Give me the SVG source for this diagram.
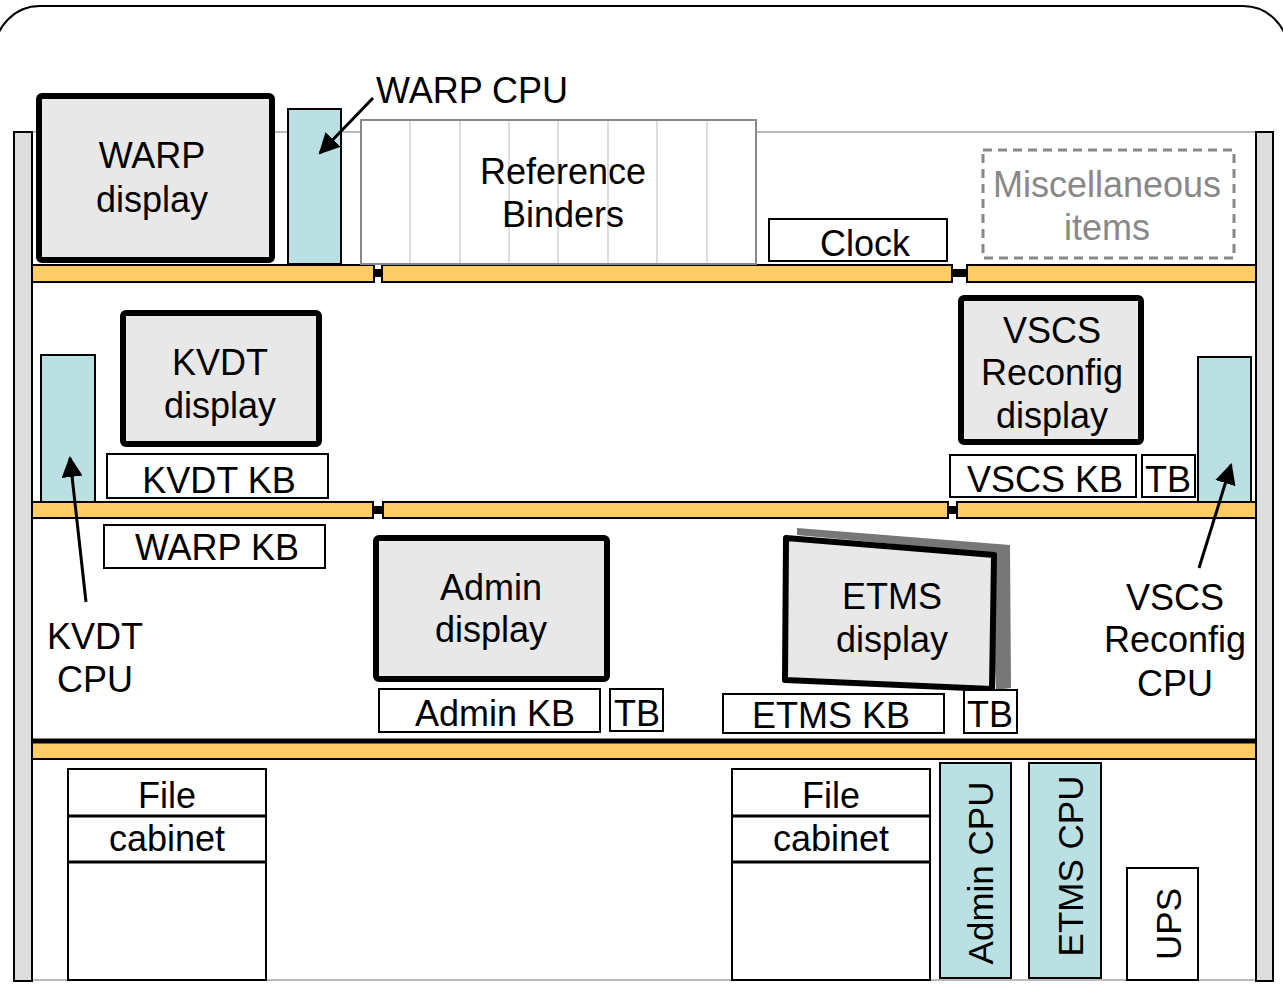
<svg xmlns="http://www.w3.org/2000/svg" width="1283" height="984" viewBox="0 0 1283 984">
<style>
text{font-family:"Liberation Sans",Arial,sans-serif;font-size:36px;fill:#000;text-anchor:middle}
text.rot{font-size:35px}
.shelf{fill:#ffcc66;stroke:#000;stroke-width:2}
.joint{fill:#000}
.post{fill:#dddddd;stroke:#000;stroke-width:2}
.disp{fill:#e8e8e8;stroke:#000;stroke-width:6;stroke-linejoin:round}
.cpu{fill:#bbe0e3;stroke:#000;stroke-width:2}
.box{fill:#fff;stroke:#000;stroke-width:2}
.arrow{stroke:#000;stroke-width:3;fill:none;marker-end:url(#ah)}
</style>
<defs>
<marker id="ah" viewBox="0 0 10 10" refX="9" refY="5" markerWidth="7" markerHeight="7" markerUnits="strokeWidth" orient="auto">
<path d="M0,0 L10,5 L0,10 z" fill="#000"/>
</marker>
</defs>
<rect width="1283" height="984" fill="#fff"/>
<g id="frame">
<rect x="-5" y="6" width="1293" height="1040" rx="45" ry="45" fill="none" stroke="#000" stroke-width="2"/>
<line x1="32" y1="132" x2="1256" y2="132" stroke="#bbbbbb" stroke-width="2"/>
<line x1="32" y1="980" x2="1256" y2="980" stroke="#bbbbbb" stroke-width="2"/>
</g>
<g id="shelves">
<rect class="shelf" x="32" y="265" width="342" height="17"/>
<rect class="joint" x="374" y="269" width="8" height="8"/>
<rect class="shelf" x="382" y="265" width="570" height="17"/>
<rect class="joint" x="952" y="269" width="15" height="8"/>
<rect class="shelf" x="967" y="265" width="289" height="17"/>
<rect class="shelf" x="32" y="502" width="341" height="16"/>
<rect class="joint" x="373" y="506" width="10" height="8"/>
<rect class="shelf" x="383" y="502" width="565" height="16"/>
<rect class="joint" x="948" y="506" width="9" height="8"/>
<rect class="shelf" x="957" y="502" width="299" height="16"/>
<rect class="shelf" x="32" y="742" width="1224" height="17"/>
<line x1="32" y1="741" x2="1256" y2="741" stroke="#000" stroke-width="5"/>
</g>
<g id="posts">
<rect class="post" x="14" y="132" width="18" height="849"/>
<rect class="post" x="1256" y="132" width="17" height="849"/>
</g>
<g id="warp-display">
<rect class="disp" x="39" y="96" width="233" height="164" rx="3"/>
<text x="152" y="168">WARP</text>
<text x="152" y="212">display</text>
</g>
<g id="warp-cpu">
<rect class="cpu" x="288" y="109" width="53" height="155"/>
</g>
<g id="reference-binders">
<rect x="361" y="120" width="395" height="144" fill="#fff" stroke="#888" stroke-width="2"/>
<g stroke="#dddddd" stroke-width="2">
<line x1="410" y1="121" x2="410" y2="263"/>
<line x1="460" y1="121" x2="460" y2="263"/>
<line x1="509" y1="121" x2="509" y2="263"/>
<line x1="558" y1="121" x2="558" y2="263"/>
<line x1="608" y1="121" x2="608" y2="263"/>
<line x1="657" y1="121" x2="657" y2="263"/>
<line x1="707" y1="121" x2="707" y2="263"/>
</g>
<text x="563" y="184">Reference</text>
<text x="563" y="227">Binders</text>
</g>
<g id="clock">
<rect class="box" x="769" y="219" width="178" height="42"/>
<text x="865" y="256">Clock</text>
</g>
<g id="misc">
<rect x="983" y="150" width="251" height="108" fill="none" stroke="#888" stroke-width="3" stroke-dasharray="9,6"/>
<text x="1107" y="197" style="fill:#888">Miscellaneous</text>
<text x="1107" y="240" style="fill:#888">items</text>
</g>
<g id="kvdt-cpu">
<rect class="cpu" x="41" y="355" width="54" height="147"/>
</g>
<g id="kvdt-display">
<rect class="disp" x="123" y="313" width="196" height="131" rx="3"/>
<text x="220" y="375">KVDT</text>
<text x="220" y="418">display</text>
</g>
<g id="kvdt-kb">
<rect class="box" x="107" y="454" width="221" height="44"/>
<text x="219" y="493">KVDT KB</text>
</g>
<g id="warp-kb">
<rect class="box" x="104" y="525" width="221" height="43"/>
<text x="217" y="560">WARP KB</text>
</g>
<g id="vscs-display">
<rect class="disp" x="961" y="298" width="180" height="144" rx="3"/>
<text x="1052" y="343">VSCS</text>
<text x="1052" y="385">Reconfig</text>
<text x="1052" y="428">display</text>
</g>
<g id="vscs-kb">
<rect class="box" x="950" y="455" width="186" height="42"/>
<text x="1045" y="492">VSCS KB</text>
</g>
<g id="vscs-tb">
<rect class="box" x="1142" y="455" width="53" height="42"/>
<text x="1168" y="492">TB</text>
</g>
<g id="vscs-cpu">
<rect class="cpu" x="1198" y="357" width="53" height="145"/>
</g>
<g id="admin-display">
<rect class="disp" x="376" y="538" width="231" height="141" rx="3"/>
<text x="491" y="600">Admin</text>
<text x="491" y="642">display</text>
</g>
<g id="admin-kb">
<rect class="box" x="379" y="689" width="221" height="43"/>
<text x="495" y="726">Admin KB</text>
</g>
<g id="admin-tb">
<rect class="box" x="610" y="689" width="53" height="42"/>
<text x="637" y="726">TB</text>
</g>
<g id="etms-display">
<polygon points="797,528 1010,545 1011,688 996,690 990,553 797,535" fill="#777"/>
<polygon class="disp" points="786,538 994,555 992,689 785,680"/>
<text x="892" y="609">ETMS</text>
<text x="892" y="652">display</text>
</g>
<g id="etms-kb">
<rect class="box" x="723" y="694" width="221" height="39"/>
<text x="831" y="728">ETMS KB</text>
</g>
<g id="etms-tb">
<rect class="box" x="964" y="690" width="53" height="43"/>
<text x="990" y="727">TB</text>
</g>
<g id="file-cabinet-left">
<rect class="box" x="68" y="769" width="198" height="211"/>
<line x1="68" y1="816" x2="266" y2="816" stroke="#000" stroke-width="3"/>
<line x1="68" y1="862" x2="266" y2="862" stroke="#000" stroke-width="3"/>
<text x="167" y="808">File</text>
<text x="167" y="851">cabinet</text>
</g>
<g id="file-cabinet-right">
<rect class="box" x="732" y="769" width="198" height="211"/>
<line x1="732" y1="816" x2="930" y2="816" stroke="#000" stroke-width="3"/>
<line x1="732" y1="862" x2="930" y2="862" stroke="#000" stroke-width="3"/>
<text x="831" y="808">File</text>
<text x="831" y="851">cabinet</text>
</g>
<g id="admin-cpu">
<rect class="cpu" x="940" y="763" width="71" height="215"/>
<text class="rot" transform="translate(993,873) rotate(-90)">Admin CPU</text>
</g>
<g id="etms-cpu">
<rect class="cpu" x="1029" y="763" width="72" height="215"/>
<text class="rot" transform="translate(1083,866) rotate(-90)">ETMS CPU</text>
</g>
<g id="ups">
<rect class="box" x="1127" y="868" width="71" height="112"/>
<text class="rot" transform="translate(1181,924) rotate(-90)">UPS</text>
</g>
<g id="labels">
<text x="376" y="103" style="text-anchor:start">WARP CPU</text>
<text x="95" y="649">KVDT</text>
<text x="95" y="692">CPU</text>
<text x="1175" y="610">VSCS</text>
<text x="1175" y="652">Reconfig</text>
<text x="1175" y="696">CPU</text>
</g>
<g id="connectors">
<line class="arrow" x1="373" y1="98" x2="320" y2="153"/>
<line class="arrow" x1="86" y1="602" x2="70" y2="458"/>
<line class="arrow" x1="1199" y1="568" x2="1231" y2="465"/>
</g>
</svg>
